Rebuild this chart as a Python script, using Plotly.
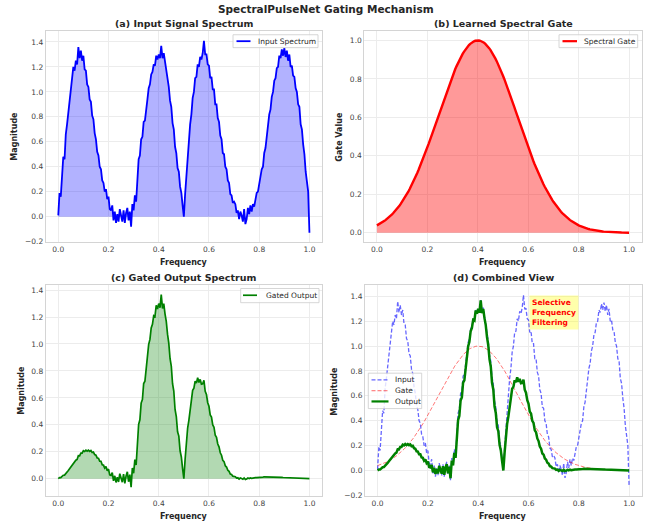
import numpy as np
import plotly.graph_objects as go

# ---------------- data ----------------
freq = np.linspace(0.0, 1.0, 201)

input_spectrum = [
    0.01, 0.19, 0.16, 0.33, 0.48, 0.46, 0.66, 0.74, 0.84, 0.95,
    1.05, 1.13, 1.20, 1.17, 1.25, 1.22, 1.36, 1.27, 1.33, 1.25,
    1.29, 1.18, 1.17, 1.06, 1.04, 0.94, 0.92, 0.81, 0.78, 0.67,
    0.62, 0.52, 0.49, 0.40, 0.38, 0.29, 0.27, 0.20, 0.22, 0.14,
    0.16, 0.06, 0.05, 0.09, -0.03, 0.04, -0.05, 0.02, -0.04, 0.06,
    0.00, -0.04, 0.05, -0.05, 0.03, 0.07, -0.03, 0.04, -0.08, 0.10,
    0.05, 0.17, 0.12, 0.34, 0.46, 0.49, 0.62, 0.64, 0.76, 0.77,
    0.88, 0.94, 1.03, 1.06, 1.14, 1.16, 1.22, 1.21, 1.29, 1.26,
    1.30, 1.27, 1.37, 1.27, 1.31, 1.24, 1.19, 1.10, 1.04, 0.93,
    0.88, 0.75, 0.70, 0.56, 0.51, 0.39, 0.36, 0.24, 0.19, 0.09,
    0.00, 0.18, 0.34, 0.49, 0.58, 0.74, 0.82, 0.95, 1.00, 1.11,
    1.12, 1.22, 1.20, 1.28, 1.26, 1.31, 1.41, 1.30, 1.30, 1.22,
    1.21, 1.11, 1.12, 1.02, 1.02, 0.90, 0.90, 0.79, 0.76, 0.65,
    0.62, 0.51, 0.50, 0.40, 0.38, 0.29, 0.27, 0.18, 0.17, 0.11,
    0.12, 0.10, 0.03, 0.05, -0.02, 0.04, 0.01, -0.04, 0.06, -0.06,
    -0.02, 0.07, 0.02, 0.09, 0.04, 0.10, 0.08, 0.15, 0.19, 0.20,
    0.26, 0.29, 0.38, 0.40, 0.51, 0.55, 0.66, 0.71, 0.82, 0.86,
    0.96, 1.00, 1.09, 1.11, 1.19, 1.20, 1.29, 1.27, 1.34, 1.29,
    1.35, 1.28, 1.33, 1.25, 1.30, 1.20, 1.21, 1.13, 1.12, 1.03,
    1.00, 0.90, 0.88, 0.74, 0.70, 0.58, 0.50, 0.36, 0.28, 0.20,
    -0.13,
]

gate_values = [
    0.0389, 0.0422, 0.0457, 0.0494, 0.0534, 0.0577, 0.0622, 0.0671, 0.0722, 0.0776,
    0.0833, 0.0894, 0.0959, 0.1027, 0.1098, 0.1174, 0.1253, 0.1336, 0.1424, 0.1515,
    0.1611, 0.1712, 0.1816, 0.1925, 0.2039, 0.2157, 0.2279, 0.2406, 0.2538, 0.2674,
    0.2815, 0.2960, 0.3109, 0.3262, 0.3420, 0.3581, 0.3747, 0.3916, 0.4088, 0.4264,
    0.4443, 0.4624, 0.4808, 0.4995, 0.5183, 0.5373, 0.5565, 0.5757, 0.5950, 0.6143,
    0.6336, 0.6528, 0.6719, 0.6910, 0.7098, 0.7284, 0.7467, 0.7647, 0.7824, 0.7996,
    0.8164, 0.8327, 0.8485, 0.8637, 0.8783, 0.8922, 0.9054, 0.9179, 0.9296, 0.9405,
    0.9506, 0.9598, 0.9681, 0.9755, 0.9819, 0.9874, 0.9919, 0.9954, 0.9980, 0.9995,
    1.0000,
    0.9995, 0.9980, 0.9954, 0.9919, 0.9874, 0.9819, 0.9755, 0.9681, 0.9598, 0.9506,
    0.9405, 0.9296, 0.9179, 0.9054, 0.8922, 0.8783, 0.8637, 0.8485, 0.8327, 0.8164,
    0.7996, 0.7824, 0.7647, 0.7467, 0.7284, 0.7098, 0.6910, 0.6719, 0.6528, 0.6336,
    0.6143, 0.5950, 0.5757, 0.5565, 0.5373, 0.5183, 0.4995, 0.4808, 0.4624, 0.4443,
    0.4264, 0.4088, 0.3916, 0.3747, 0.3581, 0.3420, 0.3262, 0.3109, 0.2960, 0.2815,
    0.2674, 0.2538, 0.2406, 0.2279, 0.2157, 0.2039, 0.1925, 0.1816, 0.1712, 0.1611,
    0.1515, 0.1424, 0.1336, 0.1253, 0.1174, 0.1098, 0.1027, 0.0959, 0.0894, 0.0833,
    0.0776, 0.0722, 0.0671, 0.0622, 0.0577, 0.0534, 0.0494, 0.0457, 0.0422, 0.0389,
    0.0359, 0.0330, 0.0304, 0.0279, 0.0256, 0.0235, 0.0215, 0.0197, 0.0180, 0.0165,
    0.0150, 0.0137, 0.0125, 0.0113, 0.0103, 0.0093, 0.0085, 0.0077, 0.0069, 0.0063,
    0.0057, 0.0051, 0.0046, 0.0041, 0.0037, 0.0034, 0.0030, 0.0027, 0.0024, 0.0022,
    0.0019, 0.0017, 0.0015, 0.0014, 0.0012, 0.0011, 0.0010, 0.0009, 0.0008, 0.0007,
]

gated_output = np.array(input_spectrum) * np.array(gate_values)

main_title = "SpectralPulseNet Gating Mechanism"
panel_titles = ["(a) Input Signal Spectrum", "(b) Learned Spectral Gate",
                "(c) Gated Output Spectrum", "(d) Combined View"]
y_labels = ["Magnitude", "Gate Value", "Magnitude", "Magnitude"]
x_label = "Frequency"
note_text = "Selective<br>Frequency<br>Filtering"
legend_a = ["Input Spectrum"]
legend_b = ["Spectral Gate"]
legend_c = ["Gated Output"]
legend_d = ["Input", "Gate", "Output"]

# ---------------- layout helpers ----------------
W, H = 650, 529
def px(v):
    return v / W
def py(v):
    return 1 - v / H

FONT = "DejaVu Sans"
TXT = "#262626"

BLUE = "#0000ff"
RED = "#ff0000"
GREEN = "#008000"
BLUE_A = "rgba(0,0,255,0.6)"
RED_A = "rgba(255,0,0,0.6)"

fig = go.Figure()

# (a) input
fig.add_trace(go.Scatter(x=freq, y=input_spectrum, mode="lines", fill="tozeroy",
                         fillcolor="rgba(0,0,255,0.3)", line=dict(width=0, color="rgba(0,0,255,0)"),
                         showlegend=False, hoverinfo="skip", xaxis="x", yaxis="y"))
fig.add_trace(go.Scatter(x=freq, y=input_spectrum, mode="lines", name=legend_a[0],
                         line=dict(color=BLUE, width=1.8), xaxis="x", yaxis="y"))
# (b) gate
fig.add_trace(go.Scatter(x=freq, y=gate_values, mode="lines", fill="tozeroy",
                         fillcolor="rgba(255,0,0,0.4)", line=dict(width=0, color="rgba(255,0,0,0)"),
                         showlegend=False, hoverinfo="skip", xaxis="x2", yaxis="y2"))
fig.add_trace(go.Scatter(x=freq, y=gate_values, mode="lines", name=legend_b[0],
                         line=dict(color=RED, width=2.4), xaxis="x2", yaxis="y2"))
# (c) output
fig.add_trace(go.Scatter(x=freq, y=gated_output, mode="lines", fill="tozeroy",
                         fillcolor="rgba(0,128,0,0.3)", line=dict(width=0, color="rgba(0,128,0,0)"),
                         showlegend=False, hoverinfo="skip", xaxis="x3", yaxis="y3"))
fig.add_trace(go.Scatter(x=freq, y=gated_output, mode="lines", name=legend_c[0],
                         line=dict(color=GREEN, width=1.7), xaxis="x3", yaxis="y3"))
# (d) combined
fig.add_trace(go.Scatter(x=freq, y=input_spectrum, mode="lines", name=legend_d[0],
                         line=dict(color=BLUE_A, width=1.3, dash="4px,2px"),
                         xaxis="x4", yaxis="y4"))
fig.add_trace(go.Scatter(x=freq, y=gate_values, mode="lines", name=legend_d[1],
                         line=dict(color=RED_A, width=0.9, dash="4px,2px"),
                         xaxis="x4", yaxis="y4"))
fig.add_trace(go.Scatter(x=freq, y=gated_output, mode="lines", name=legend_d[2],
                         line=dict(color=GREEN, width=2.5),
                         xaxis="x4", yaxis="y4"))

boxes = {
    1: dict(x=(45.7, 322.0), y=(31.0, 244.3), yr=[-0.207, 1.49]),
    2: dict(x=(364.3, 641.7), y=(31.0, 244.3), yr=[-0.05, 1.05]),
    3: dict(x=(45.7, 322.0), y=(287.3, 500.0), yr=[-0.13, 1.437]),
    4: dict(x=(365.0, 641.7), y=(287.3, 500.0), yr=[-0.207, 1.49]),
}

axis_common = dict(showgrid=True, gridcolor="#ececec", gridwidth=0.8, zeroline=False,
                   showline=True, linecolor="#d4d4d4", linewidth=1, mirror=True,
                   ticks="", tickfont=dict(family=FONT, size=7.5, color="#444444"),
                   tickformat=".1f", dtick=0.2)

layout_axes = {}
for i, b in boxes.items():
    sx = "" if i == 1 else str(i)
    layout_axes["xaxis" + sx] = dict(axis_common, domain=[px(b["x"][0]), px(b["x"][1])],
                                     range=[-0.05, 1.05], anchor="y" + sx, tick0=0)
    layout_axes["yaxis" + sx] = dict(axis_common, domain=[py(b["y"][1]), py(b["y"][0])],
                                     range=b["yr"], anchor="x" + sx, tick0=0)

fig.update_layout(
    width=W, height=H, margin=dict(l=0, r=0, t=0, b=0),
    paper_bgcolor="white", plot_bgcolor="white", showlegend=False,
    font=dict(family=FONT, size=7.5, color=TXT),
    **layout_axes,
)

ann = []
shapes = []
ann.append(dict(text="<b>%s</b>" % main_title, x=px(326), y=py(9), xref="paper", yref="paper",
                showarrow=False, xanchor="center", yanchor="middle",
                font=dict(family=FONT, size=10.5, color=TXT)))
title_pos = {1: (183.9, 24), 2: (503, 24), 3: (183.9, 280), 4: (503.3, 280)}
for i, t in enumerate(panel_titles, start=1):
    cx, cy = title_pos[i]
    ann.append(dict(text="<b>%s</b>" % t, x=px(cx), y=py(cy), xref="paper", yref="paper",
                    showarrow=False, xanchor="center", yanchor="middle",
                    font=dict(family=FONT, size=9.5, color=TXT)))
xlab_pos = {1: (183.9, 264), 2: (503, 264), 3: (183.9, 520), 4: (503.3, 520)}
for i in range(1, 5):
    cx, cy = xlab_pos[i]
    ann.append(dict(text="<b>%s</b>" % x_label, x=px(cx), y=py(cy), xref="paper", yref="paper",
                    showarrow=False, xanchor="center", yanchor="middle",
                    font=dict(family=FONT, size=8, color=TXT)))
ylab_pos = {1: (15, 137.7), 2: (340, 137.7), 3: (22, 393.7), 4: (335, 393.7)}
for i, t in enumerate(y_labels, start=1):
    cx, cy = ylab_pos[i]
    ann.append(dict(text="<b>%s</b>" % t, x=px(cx), y=py(cy), xref="paper", yref="paper",
                    showarrow=False, xanchor="center", yanchor="middle", textangle=-90,
                    font=dict(family=FONT, size=8, color=TXT)))
ann.append(dict(text="<b>%s</b>" % note_text, x=0.6, y=1.41, xref="x4", yref="y4",
                showarrow=False, xanchor="left", yanchor="top", align="left",
                bgcolor="rgba(255,255,0,0.33)", borderpad=2,
                font=dict(family=FONT, size=7.5, color=RED)))


# ---------------- legends (drawn as boxes, sample lines and labels) ----------------
def add_legend(box, entries, line_x, text_x, rows_y):
    x0, x1, y0, y1 = box
    shapes.append(dict(type="rect", xref="paper", yref="paper", layer="above",
                       x0=px(x0), x1=px(x1), y0=py(y1), y1=py(y0),
                       fillcolor="rgba(255,255,255,0.8)",
                       line=dict(color="#cccccc", width=0.8)))
    for (label, color, width, dash), ry in zip(entries, rows_y):
        shapes.append(dict(type="line", xref="paper", yref="paper", layer="above",
                           x0=px(line_x[0]), x1=px(line_x[1]), y0=py(ry), y1=py(ry),
                           line=dict(color=color, width=width, dash=dash)))
        ann.append(dict(text=label, x=px(text_x), y=py(ry), xref="paper", yref="paper",
                        showarrow=False, xanchor="left", yanchor="middle",
                        font=dict(family=FONT, size=7.5, color=TXT)))


add_legend((233, 318, 35, 48), [(legend_a[0], BLUE, 1.8, "solid")],
           (236.5, 250.5), 256, [41.5])
add_legend((559, 637.7, 35, 48), [(legend_b[0], RED, 2.2, "solid")],
           (562.5, 577), 582, [41.5])
add_legend((240.7, 319, 290.7, 305), [(legend_c[0], GREEN, 1.7, "solid")],
           (243, 257), 264, [297.5])
add_legend((368.3, 421.7, 376, 411.7),
           [(legend_d[0], BLUE_A, 1.3, "4px,2px"), (legend_d[1], RED_A, 1.0, "4px,2px"),
            (legend_d[2], GREEN, 2.2, "solid")],
           (371.5, 388.5), 392.5, [382.7, 393.7, 404.5])

fig.update_layout(annotations=ann, shapes=shapes)

fig.write_html("out.html", config={"displayModeBar": False},
               post_script="document.body.style.margin='0';")
